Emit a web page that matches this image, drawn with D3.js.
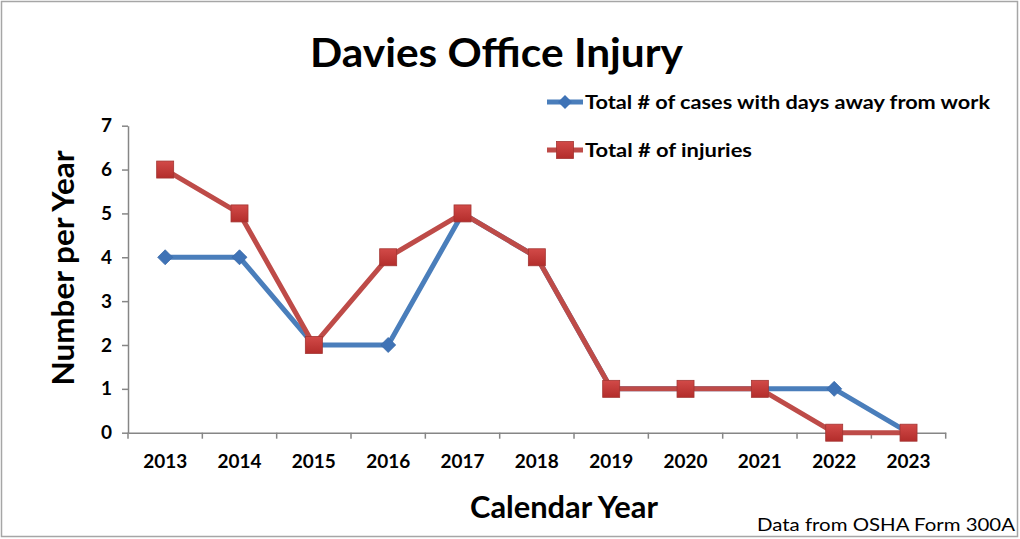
<!DOCTYPE html>
<html><head><meta charset="utf-8">
<script src="https://cdn.jsdelivr.net/npm/d3@7"></script>
<style>body{margin:0;background:#fff}svg{display:block}text{font-family:Lato,"Open Sans",sans-serif}</style>
</head><body>
<svg id="c" width="1020" height="539"></svg>
<script>
const categories = ["2013","2014","2015","2016","2017","2018","2019","2020","2021","2022","2023"];
const daysAway = [4,4,2,2,5,4,1,1,1,1,0];
const injuries = [6,5,2,4,5,4,1,1,1,0,0];
const yTicks = [0,1,2,3,4,5,6,7];
const seriesNames = ["Total # of cases with days away from work","Total # of injuries"];

const svg = d3.select("#c");
svg.append("rect").attr("x",1.5).attr("y",1.5).attr("width",1016).attr("height",535)
  .attr("fill","#fff").attr("stroke","#a6a6a6").attr("stroke-width",1.5);

const x = d3.scaleBand().domain(categories).range([128,945.7]);
const y = d3.scaleLinear().domain([0,7]).range([432.7,125.7]);

const axisColor="#868686";
const gy = svg.append("g").attr("transform","translate(128,0)")
  .call(d3.axisLeft(y).tickValues(yTicks).tickFormat(d3.format("d")).tickSize(6).tickSizeOuter(0).tickPadding(10));
const gx = svg.append("g").attr("transform","translate(0,432.7)")
  .call(d3.axisBottom(x).tickSize(0).tickPadding(22));
const bounds = categories.map(c=>x(c)).concat([x.range()[1]]);
gx.selectAll(".bt").data(bounds).enter().append("line")
  .attr("x1",d=>d).attr("x2",d=>d).attr("y1",0).attr("y2",6).attr("stroke",axisColor).attr("stroke-width",1.5);
[gx,gy].forEach(g=>{
  g.select(".domain").attr("stroke",axisColor).attr("stroke-width",1.5);
  g.selectAll(".tick line").attr("stroke",axisColor).attr("stroke-width",1.5);
  g.selectAll("text").attr("font-family","Lato, sans-serif").attr("font-weight","bold").attr("font-size",19).attr("fill","#000");
});
gx.selectAll(".tick text").attr("textLength",44).attr("lengthAdjust","spacingAndGlyphs");

const cx = d=>x(d)+x.bandwidth()/2;
const line = d3.line().x((d,i)=>cx(categories[i])).y(d=>y(d));
const blue="#4a7ebb", red="#be4b48";

svg.append("path").datum(daysAway).attr("d",line).attr("fill","none").attr("stroke",blue).attr("stroke-width",5).attr("stroke-linejoin","round");
svg.selectAll(".dm").data(daysAway).enter().append("path")
  .attr("transform",(d,i)=>`translate(${cx(categories[i])},${y(d)})`)
  .attr("d","M0,-7.5L7.5,0L0,7.5L-7.5,0Z").attr("fill","#3f73b6").attr("stroke","#3a6aa8").attr("stroke-width",0.8);

svg.append("path").datum(injuries).attr("d",line).attr("fill","none").attr("stroke",red).attr("stroke-width",5).attr("stroke-linejoin","round");
const defs = svg.append("defs");
const gr = defs.append("linearGradient").attr("id","rg").attr("x1",0).attr("y1",0).attr("x2",0).attr("y2",1);
gr.append("stop").attr("offset","0%").attr("stop-color","#d24a48");
gr.append("stop").attr("offset","100%").attr("stop-color","#b32d2b");
svg.selectAll(".sq").data(injuries).enter().append("rect")
  .attr("x",(d,i)=>cx(categories[i])-8.5).attr("y",d=>y(d)-8.5).attr("width",17).attr("height",17)
  .attr("fill","url(#rg)").attr("stroke","#a33532").attr("stroke-width",0.8);

svg.append("text").attr("x",310).attr("y",67)
  .attr("font-weight","bold").attr("font-size",40).attr("fill","#000")
  .attr("textLength",373).attr("lengthAdjust","spacingAndGlyphs").text("Davies Office Injury");

const legY=[102,150];
const legW=[405,167];
[[blue,"d"],[red,"s"]].forEach(([col,m],i)=>{
  const g=svg.append("g");
  g.append("line").attr("x1",547).attr("x2",583).attr("y1",legY[i]).attr("y2",legY[i]).attr("stroke",col).attr("stroke-width",5);
  if(m==="d") g.append("path").attr("transform",`translate(565,${legY[i]})`).attr("d","M0,-7L7,0L0,7L-7,0Z").attr("fill","#3f73b6");
  else g.append("rect").attr("x",556.5).attr("y",legY[i]-8.5).attr("width",17).attr("height",17).attr("fill","url(#rg)").attr("stroke","#a33532").attr("stroke-width",0.8);
  g.append("text").attr("x",585).attr("y",legY[i]+7).attr("font-weight","bold").attr("font-size",19)
    .attr("textLength",legW[i]).attr("lengthAdjust","spacingAndGlyphs").attr("fill","#000").text(seriesNames[i]);
});

svg.append("text").attr("transform","translate(74,268) rotate(-90)").attr("text-anchor","middle")
  .attr("font-weight","bold").attr("font-size",31).attr("fill","#000")
  .attr("textLength",235).attr("lengthAdjust","spacingAndGlyphs").text("Number per Year");
svg.append("text").attr("x",564).attr("y",518).attr("text-anchor","middle")
  .attr("font-weight","bold").attr("font-size",31).attr("fill","#000")
  .attr("textLength",188).attr("lengthAdjust","spacingAndGlyphs").text("Calendar Year");
svg.append("text").attr("x",1015).attr("y",531).attr("text-anchor","end")
  .attr("font-size",18).attr("fill","#000")
  .attr("textLength",258).attr("lengthAdjust","spacingAndGlyphs").text("Data from OSHA Form 300A");
</script>
</body></html>
